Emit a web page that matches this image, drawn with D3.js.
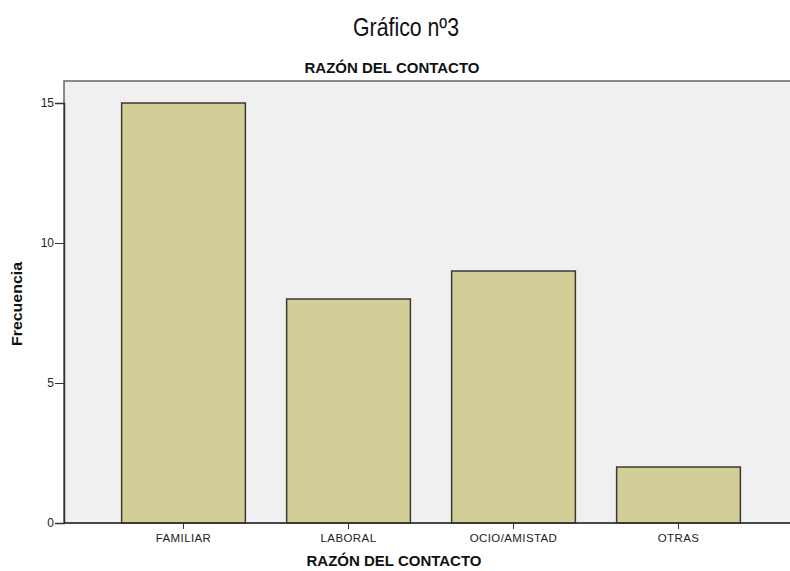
<!DOCTYPE html>
<html><head><meta charset="utf-8">
<script src="https://cdn.jsdelivr.net/npm/d3@7"></script>
<style>body{margin:0;background:#fff}svg{display:block}</style>
</head><body>
<svg id="c" width="790" height="571"></svg>
<script>
const categories = ["FAMILIAR", "LABORAL", "OCIO/AMISTAD", "OTRAS"];
const values = [15, 8, 9, 2];
const yTicks = [0, 5, 10, 15];

const svg = d3.select("#c");
const plot = {left: 64, top: 81, right: 795, bottom: 523};
const font = "'Liberation Sans',Arial,sans-serif";

svg.append("text").attr("x", 406).attr("y", 36).attr("text-anchor", "middle")
  .attr("font-family", font)
  .attr("font-size", 26).attr("fill", "#111")
  .attr("textLength", 106).attr("lengthAdjust", "spacingAndGlyphs").text("Gráfico nº3");

svg.append("rect").attr("x", plot.left).attr("y", plot.top)
  .attr("width", plot.right - plot.left).attr("height", plot.bottom - plot.top)
  .attr("fill", "#f0f0f0").attr("stroke", "#666").attr("stroke-width", 1.5);

svg.append("text").attr("x", 392).attr("y", 73).attr("text-anchor", "middle")
  .attr("font-family", font).attr("font-weight", "bold")
  .attr("font-size", 15).attr("fill", "#111").text("RAZÓN DEL CONTACTO");

const x = d3.scaleBand().domain(categories).range([101, 761]).paddingInner(0.25).paddingOuter(0.125);
const y = d3.scaleLinear().domain([0, 15]).range([plot.bottom, 103]);

svg.selectAll("rect.bar").data(values).join("rect").attr("class", "bar")
  .attr("x", (d, i) => x(categories[i])).attr("width", x.bandwidth())
  .attr("y", d => y(d)).attr("height", d => y(0) - y(d))
  .attr("fill", "#d3ce97").attr("stroke", "#3a3a32").attr("stroke-width", 1.5);

const yAxis = svg.append("g").attr("transform", `translate(${plot.left},0)`)
  .call(d3.axisLeft(y).tickValues(yTicks).tickSize(9).tickPadding(1));
yAxis.select(".domain").attr("stroke", "#333").attr("stroke-width", 1.5);
yAxis.selectAll(".tick line").attr("stroke", "#333");
yAxis.selectAll("text").attr("font-family", font).attr("font-size", 12).attr("fill", "#222");

const xAxis = svg.append("g").attr("transform", `translate(0,${plot.bottom})`)
  .call(d3.axisBottom(x).tickSize(6).tickPadding(5).tickSizeOuter(0));
xAxis.select(".domain").attr("d", `M${plot.left},0H${plot.right}`).attr("stroke", "#333").attr("stroke-width", 1.5);
xAxis.selectAll(".tick line").attr("stroke", "#333");
xAxis.selectAll("text").attr("font-family", font).attr("font-size", 11.5)
  .attr("letter-spacing", 0.4).attr("fill", "#222");

svg.append("text").attr("x", 394).attr("y", 566).attr("text-anchor", "middle")
  .attr("font-family", font).attr("font-weight", "bold")
  .attr("font-size", 15).attr("fill", "#111").text("RAZÓN DEL CONTACTO");

svg.append("text").attr("transform", "translate(22,304) rotate(-90)").attr("text-anchor", "middle")
  .attr("font-family", font).attr("font-weight", "bold")
  .attr("font-size", 14.5).attr("fill", "#111")
  .attr("textLength", 84).attr("lengthAdjust", "spacingAndGlyphs").text("Frecuencia");
</script>
</body></html>
